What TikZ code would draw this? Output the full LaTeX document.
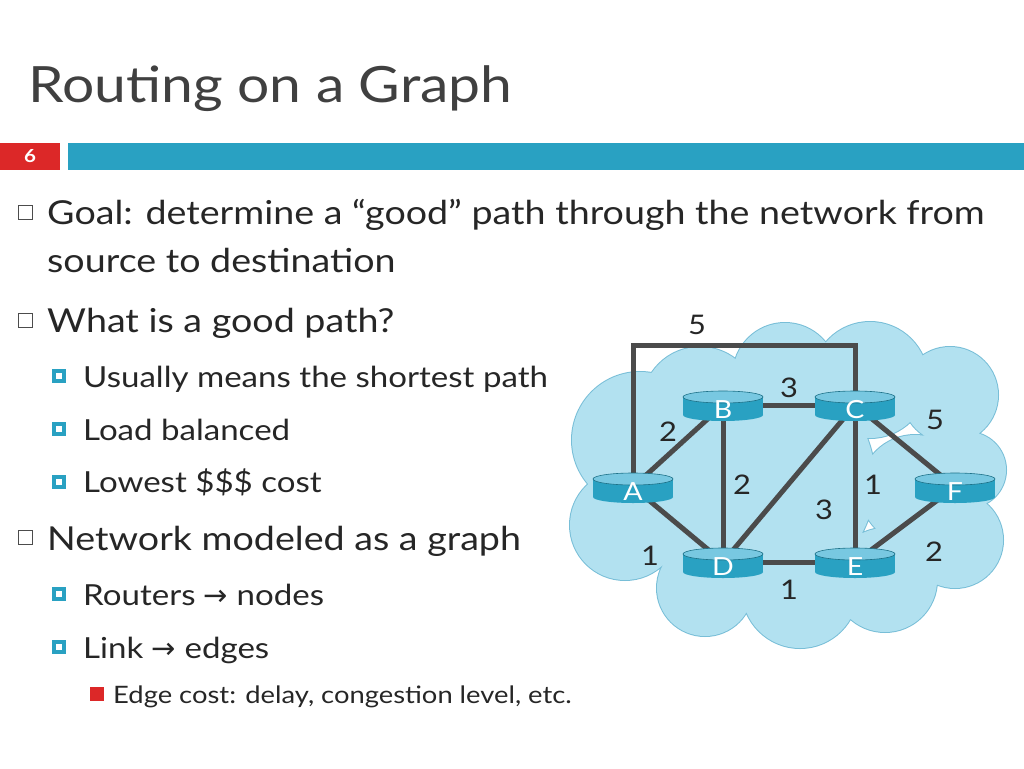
\documentclass[tikz,border=0pt]{standalone}
\usepackage{fontspec}
\setmainfont{Lato}[FakeStretch=1.14]
\definecolor{bar}{RGB}{41,161,194}
\definecolor{redb}{RGB}{220,40,40}
\definecolor{cloudf}{RGB}{178,225,240}
\definecolor{cloudd}{RGB}{120,190,215}
\definecolor{edge}{RGB}{75,75,75}
\definecolor{cyltop}{RGB}{120,200,225}
\tikzset{edgeline/.style={draw=edge,line width=5pt},
 lbl/.style={font=\fontsize{27}{30}\selectfont,inner sep=0pt,text=black!85},
 bodyt/.style={anchor=base west,inner sep=0pt,font=\fontsize{33}{38}\selectfont,text=black!85},
 subt/.style={anchor=base west,inner sep=0pt,font=\fontsize{29}{34}\selectfont,text=black!85},
 subsub/.style={anchor=base west,inner sep=0pt,font=\fontsize{24}{28}\selectfont,text=black!85}}
\newcommand{\mycyl}[4]{%
 \fill[bar] (#2-40,#3-8) rectangle (#2+40,#3+10);
 \fill[bar] (#2,#3+10) ellipse [x radius=40,y radius=6];
 \fill[cyltop] (#2,#3-8) ellipse [x radius=40,y radius=6];
 \draw[bar!70!black,line width=0.6pt] (#2,#3-8) ellipse [x radius=40,y radius=6];
 \node[text=white,font=\fontsize{25}{28}\selectfont,inner sep=0pt] (#1) at (#2,#3+5) {#4};}
\begin{document}
\begin{tikzpicture}[x=1pt,y=-1pt]
\useasboundingbox (0,0) rectangle (1024,768);
\node[anchor=base west,inner sep=0pt,font=\fontsize{50}{56}\selectfont,text=black!75] (title) at (28,102) {Routing on a Graph};
\fill[redb] (0,143) rectangle (60,170);
\node[text=white,font=\bfseries\fontsize{18}{20}\selectfont] (num) at (30,156) {6};
\fill[bar] (68,143) rectangle (1024,170);
% bullets
\foreach \y in {205,313,530} {\draw[line width=1pt,black!70] (18,\y) rectangle (32,\y+14);}
\node[bodyt] (t1) at (47,224) {Goal: determine a “good” path through the network from};
\node[bodyt] (t1b) at (47,272) {source to destination};
\node[bodyt] (t2) at (47,332) {What is a good path?};
\node[bodyt] (t3) at (47,550) {Network modeled as a graph};
\foreach \y in {369,422,475,587,640} {\fill[bar] (52,\y) rectangle (66,\y+14); \fill[white] (56,\y+4) rectangle (62,\y+10);}
\node[subt] (s1) at (83,387) {Usually means the shortest path};
\node[subt] (s2) at (83,440) {Load balanced};
\node[subt] (s3) at (83,492) {Lowest \$\$\$ cost};
\node[subt] (s4) at (83,605) {Routers {\fontspec{DejaVu Sans}→} nodes};
\node[subt] (s5) at (83,658) {Link {\fontspec{DejaVu Sans}→} edges};
\fill[redb] (90,687) rectangle (104,701);
\node[subsub] (s6) at (113,703) {Edge cost: delay, congestion level, etc.};
% cloud
\def\circs{(640,440) circle (68) (625,525) circle (55) (700,405) circle (58) (785,375) circle (52) (870,380) circle (58) (950,395) circle (48) (968,470) circle (38) (955,540) circle (48) (885,580) circle (52) (800,590) circle (58) (705,588) circle (48) (760,480) circle (115) (915,490) circle (55)}
\draw[cloudd,line width=2pt] \circs;
\fill[cloudf] \circs;
% edge endpoints
\coordinate (pA) at (633,487);
\coordinate (pB) at (723,405);
\coordinate (pC) at (855,405);
\coordinate (pD) at (723,562);
\coordinate (pE) at (855,562);
\coordinate (pF) at (955,487);
\coordinate (k1) at (633,345);
\coordinate (k2) at (855,345);
\draw[edgeline] (pA) -- (k1) -- (k2) -- (pC);
\draw[edgeline] (pA) -- (pB);
\draw[edgeline] (pB) -- (pC);
\draw[edgeline] (pB) -- (pD);
\draw[edgeline] (pC) -- (pE);
\draw[edgeline] (pC) -- (pF);
\draw[edgeline] (pC) -- (pD);
\draw[edgeline] (pA) -- (pD);
\draw[edgeline] (pD) -- (pE);
\draw[edgeline] (pE) -- (pF);
% nodes
\mycyl{A}{633}{487}{A}
\mycyl{B}{723}{405}{B}
\mycyl{C}{855}{405}{C}
\mycyl{D}{723}{562}{D}
\mycyl{E}{855}{562}{E}
\mycyl{F}{955}{487}{F}
% labels
\node[lbl] (l1) at (697,325) {5};
\node[lbl] (l2) at (789,388) {3};
\node[lbl] (l3) at (668,432) {2};
\node[lbl] (l4) at (935,420) {5};
\node[lbl] (l5) at (742,485) {2};
\node[lbl] (l6) at (873,485) {1};
\node[lbl] (l7) at (824,510) {3};
\node[lbl] (l8) at (650,556) {1};
\node[lbl] (l9) at (934,552) {2};
\node[lbl] (l10) at (789,590) {1};
\end{tikzpicture}
\end{document}
